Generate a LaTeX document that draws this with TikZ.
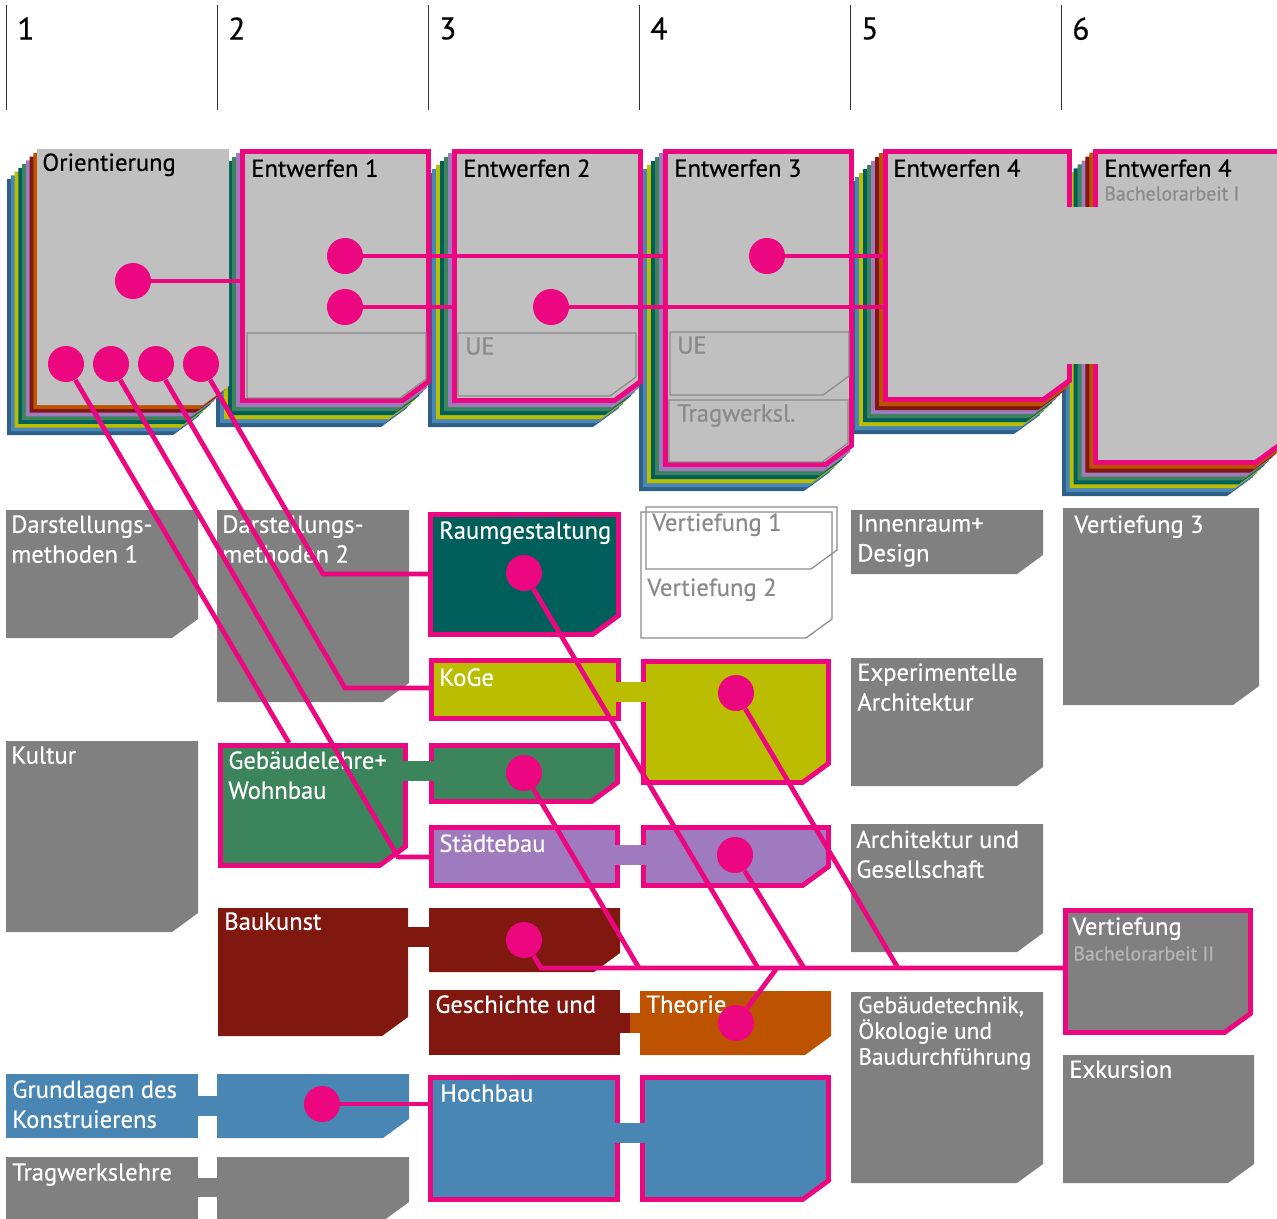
\documentclass[tikz,border=0pt]{standalone}
\usepackage{fontspec}
\setmainfont{PT Sans}[FakeBold=0.5]

\definecolor{pinkline}{RGB}{236,6,127}
\definecolor{cardgray}{RGB}{192,192,192}
\definecolor{boxgray}{RGB}{128,128,128}
\definecolor{uegray}{RGB}{138,138,138}
\definecolor{subgray}{RGB}{182,182,182}
\definecolor{colnavy}{RGB}{45,95,135}
\definecolor{colsteel}{RGB}{74,134,180}
\definecolor{cololive}{RGB}{187,189,0}
\definecolor{colteal}{RGB}{0,95,91}
\definecolor{colgreen}{RGB}{60,132,91}
\definecolor{colviolet}{RGB}{160,122,190}
\definecolor{colbrown}{RGB}{128,24,16}
\definecolor{colorange}{RGB}{189,83,0}

% card with the lower right corner cut off: left, top, right, bottom
\newcommand*{\chamfer}[4]{(#1,#2) -- (#3,#2) -- (#3,{#4-19}) -- ({#3-26},#4) -- (#1,#4) -- cycle}

\begin{document}
\begin{tikzpicture}
[
	x=0.02cm,y=-0.02cm,
	dot/.style={circle,fill=pinkline,inner sep=0pt,minimum size=20.5pt},
	link/.style={draw=pinkline,line width=2.7pt},
	rim/.style={draw=pinkline,line width=2.8pt},
	ueline/.style={draw=uegray,line width=0.7pt},
	semline/.style={draw=black!80,line width=0.8pt},
	boxtext/.style={anchor=north west,inner sep=0pt,align=left,text=white,font=\fontsize{14}{17}\selectfont},
	cardtext/.style={boxtext,text=black},
	uetext/.style={boxtext,text=uegray},
	subtext/.style={anchor=north west,inner sep=0pt,font=\fontsize{11.3}{13}\selectfont},
	numtext/.style={anchor=north west,inner sep=0pt,font=\fontsize{17.8}{20}\selectfont}
]
	\useasboundingbox (0,0) rectangle (1277,1218);
	\clip (0,0) rectangle (1277,1218);

	% semester columns
	\draw[semline] (6.5,5) -- (6.5,110);
	\draw[semline] (217.5,5) -- (217.5,110);
	\draw[semline] (428.5,5) -- (428.5,110);
	\draw[semline] (639.5,5) -- (639.5,110);
	\draw[semline] (850.5,5) -- (850.5,110);
	\draw[semline] (1061.5,5) -- (1061.5,110);
	\node[numtext] (sem1) at (17,17) {1};
	\node[numtext] (sem2) at (228,17) {2};
	\node[numtext] (sem3) at (439,17) {3};
	\node[numtext] (sem4) at (650,17) {4};
	\node[numtext] (sem5) at (861,17) {5};
	\node[numtext] (sem6) at (1072,17) {6};

	% card stacks, right to left
	\foreach \c [count=\k from 0] in {colnavy,colsteel,cololive,colteal,colgreen,colviolet,colbrown,colorange}
		\fill[\c] \chamfer{1062+3.9*\k}{180-3.9*\k}{1253+3.9*\k}{496-3.9*\k};
	\filldraw[fill=cardgray,rim] \chamfer{1095.5}{151.5}{1281.5}{462.5};
	\node[cardtext] (e6txt) at (1104,159) {Entwerfen 4};
	\node[subtext,text=uegray] (ba1txt) at (1104,186) {Bachelorarbeit I};
	%
	\foreach \c [count=\k from 0] in {colnavy,colsteel,cololive,colteal,colgreen,colviolet,colbrown,colorange}
		\fill[\c] \chamfer{851+4*\k}{181-4*\k}{1040+4*\k}{434-4*\k};
	\filldraw[fill=cardgray,rim] \chamfer{885.5}{151.5}{1069.5}{399.5};
	\node[cardtext] (e5txt) at (893,159) {Entwerfen 4};
	\fill[cardgray] (1067,207) rectangle (1099,364);
	%
	\foreach \c [count=\k from 0] in {colnavy,colsteel,cololive,colteal,colgreen,colviolet}
		\fill[\c] \chamfer{639+4*\k}{173-4*\k}{830+4*\k}{491-4*\k};
	\filldraw[fill=cardgray,rim] \chamfer{665.5}{151.5}{851.5}{464.5};
	\draw[ueline] \chamfer{670}{332}{849}{395};
	\draw[ueline] \chamfer{669}{400}{848}{462};
	\node[cardtext] (e4txt) at (674,159) {Entwerfen 3};
	\node[uetext] (ue4txt) at (677,336) {UE};
	\node[uetext] (tw4txt) at (677,404) {Tragwerksl.};
	%
	\foreach \c [count=\k from 0] in {colnavy,colsteel,cololive,colteal,colgreen,colviolet}
		\fill[\c] \chamfer{428+4*\k}{173-4*\k}{619+4*\k}{427-4*\k};
	\filldraw[fill=cardgray,rim] \chamfer{454.5}{151.5}{640.5}{400.5};
	\draw[ueline] \chamfer{458}{333}{636}{396};
	\node[cardtext] (e3txt) at (463,159) {Entwerfen 2};
	\node[uetext] (ue3txt) at (465,337) {UE};
	%
	\foreach \c [count=\k from 0] in {colnavy,colsteel,cololive,colteal,colgreen,colviolet}
		\fill[\c] \chamfer{216+4*\k}{173-4*\k}{407+4*\k}{427-4*\k};
	\filldraw[fill=cardgray,rim] \chamfer{242.5}{151.5}{428.5}{400.5};
	\draw[ueline] \chamfer{247}{333}{426}{398};
	\node[cardtext] (e2txt) at (251,159) {Entwerfen 1};
	%
	\foreach \c [count=\k from 0] in {colnavy,colsteel,cololive,colteal,colgreen,colviolet,colbrown,colorange}
		\fill[\c] \chamfer{7+3.75*\k}{179-3.75*\k}{199+3.75*\k}{435-3.75*\k};
	\fill[cardgray] \chamfer{37}{149}{229}{405};
	\node[cardtext] (oritxt) at (42,153) {Orientierung};

	% second row
	\fill[boxgray] \chamfer{6}{510}{198}{638};
	\node[boxtext] (dm1txt) at (11,515) {Darstellungs-\\methoden 1};
	\fill[boxgray] \chamfer{217}{510}{409}{702};
	\node[boxtext] (dm2txt) at (222,515) {Darstellungs-\\methoden 2};
	\filldraw[fill=colteal,rim] \chamfer{430.5}{514.5}{618.5}{634.5};
	\node[boxtext] (raumtxt) at (439,521) {Raumgestaltung};
	\draw[ueline] \chamfer{646}{507}{837}{569};
	\draw[ueline] \chamfer{641}{512}{832}{638};
	\node[uetext] (v1txt) at (652,513) {Vertiefung 1};
	\node[uetext] (v2txt) at (647,578) {Vertiefung 2};
	\fill[boxgray] \chamfer{851}{510}{1043}{574};
	\node[boxtext] (inntxt) at (857,514) {Innenraum+\\Design};
	\fill[boxgray] \chamfer{1063}{508}{1259}{705};
	\node[boxtext] (v3txt) at (1074,515) {Vertiefung 3};

	% third row
	\filldraw[fill=cololive,rim] (431.5,660.5) rectangle (618.5,718.5);
	\filldraw[fill=cololive,rim] \chamfer{643.5}{661.5}{828.5}{782.5};
	\fill[cololive] (616,682) rectangle (646,702);
	\node[boxtext] (kogetxt) at (439,668) {KoGe};
	\fill[boxgray] \chamfer{851}{658}{1043}{786};
	\node[boxtext] (exptxt) at (857,663) {Experimentelle\\Architektur};

	% fourth row
	\fill[boxgray] \chamfer{6}{741}{198}{932};
	\node[boxtext] (kultxt) at (11,746) {Kultur};
	\filldraw[fill=colgreen,rim] \chamfer{220.5}{745.5}{405.5}{865.5};
	\filldraw[fill=colgreen,rim] \chamfer{431.5}{745.5}{617.5}{801.5};
	\fill[colgreen] (403,761) rectangle (434,781);
	\node[boxtext] (gebtxt) at (228,751) {Gebäudelehre+\\Wohnbau};
	\filldraw[fill=colviolet,rim] (431.5,827.5) rectangle (617.5,885.5);
	\filldraw[fill=colviolet,rim] \chamfer{643.5}{827.5}{828.5}{885.5};
	\fill[colviolet] (615,845) rectangle (646,865);
	\node[boxtext] (stadttxt) at (439,834) {Städtebau};
	\fill[boxgray] \chamfer{851}{824}{1043}{952};
	\node[boxtext] (augtxt) at (856,830) {Architektur und\\Gesellschaft};

	% fifth row
	\fill[colbrown] \chamfer{218}{908}{408}{1036};
	\fill[colbrown] \chamfer{429}{908}{620}{972};
	\fill[colbrown] (407,927) rectangle (430,947);
	\node[boxtext] (bautxt) at (224,912) {Baukunst};
	\filldraw[fill=boxgray,rim] \chamfer{1065.5}{910.5}{1250.5}{1032.5};
	\node[boxtext] (vbatxt) at (1072,917) {Vertiefung};
	\node[subtext,text=subgray] (ba2txt) at (1073,946) {Bachelorarbeit II};

	% sixth row
	\fill[colbrown] (429,990) rectangle (620,1055);
	\fill[colorange] \chamfer{640}{991}{831}{1055};
	\fill[colbrown] (619,1013) rectangle (631,1033);
	\fill[colorange] (630,1013) rectangle (641,1033);
	\node[boxtext] (gestxt) at (435,995) {Geschichte und};
	\node[boxtext] (theotxt) at (646,995) {Theorie};
	\fill[boxgray] \chamfer{851}{992}{1043}{1183};
	\node[boxtext,font=\fontsize{13.3}{14.7}\selectfont] (gtetxt) at (858,996) {Gebäudetechnik,\\Ökologie und\\Baudurchführung};
	\fill[boxgray] \chamfer{1063}{1055}{1254}{1183};
	\node[boxtext] (exktxt) at (1069,1060) {Exkursion};

	% seventh row
	\fill[colsteel] (6,1074) rectangle (198,1138);
	\fill[colsteel] \chamfer{217}{1074}{409}{1138};
	\fill[colsteel] (197,1096) rectangle (218,1116);
	\node[boxtext] (grtxt) at (12,1080) {Grundlagen des\\Konstruierens};
	\filldraw[fill=colsteel,rim] (430.5,1077.5) rectangle (617.5,1199.5);
	\filldraw[fill=colsteel,rim] \chamfer{642.5}{1077.5}{828.5}{1199.5};
	\fill[colsteel] (615,1123) rectangle (646,1143);
	\node[boxtext] (hochtxt) at (440,1084) {Hochbau};
	\fill[boxgray] (6,1157) rectangle (198,1230);
	\fill[boxgray] \chamfer{217}{1157}{409}{1221};
	\fill[boxgray] (197,1178) rectangle (218,1197);
	\node[boxtext] (twtxt) at (12,1163) {Tragwerkslehre};

	% dots
	\node[dot] (ori) at (133,281) {};
	\node[dot] (ent1a) at (345,256) {};
	\node[dot] (ent1b) at (345,307) {};
	\node[dot] (ent2) at (551,307) {};
	\node[dot] (ent3) at (767,256) {};
	\node[dot] (ori1) at (66,364) {};
	\node[dot] (ori2) at (111,364) {};
	\node[dot] (ori3) at (156,364) {};
	\node[dot] (ori4) at (201,364) {};
	\node[dot] (raum) at (524,573) {};
	\node[dot] (koge) at (736,693) {};
	\node[dot] (gebw) at (524,773) {};
	\node[dot] (stadt) at (735,855) {};
	\node[dot] (bauk) at (524,940) {};
	\node[dot] (theo) at (736,1023) {};
	\node[dot] (grund) at (322,1104) {};

	% free ends
	\coordinate (ent1in) at (241,281);
	\coordinate (ent2in) at (453,307);
	\coordinate (ent3in) at (664,256);
	\coordinate (ent4a) at (884,256);
	\coordinate (ent4b) at (884,307);
	\coordinate (gebtop) at (289,743);
	\coordinate (gebcut) at (398,857);
	\coordinate (stadtin) at (430,857);
	\coordinate (kogecut) at (345,688);
	\coordinate (kogein) at (430,688);
	\coordinate (raumcut) at (323,574);
	\coordinate (raumin) at (430,574);
	\coordinate (busstart) at (541,968);
	\coordinate (busend) at (1066,968);
	\coordinate (busgeb) at (639,968);
	\coordinate (busraum) at (758,968);
	\coordinate (busstadt) at (804,968);
	\coordinate (buskoge) at (898,968);
	\coordinate (bustheo) at (777,968);
	\coordinate (hochin) at (430,1104);

	% links
	\draw[link] (ori) -- (ent1in);
	\draw[link] (ent1a) -- (ent3in);
	\draw[link] (ent1b) -- (ent2in);
	\draw[link] (ent2) -- (ent4b);
	\draw[link] (ent3) -- (ent4a);
	\draw[link] (ori1) -- (gebtop);
	\draw[link] (ori2) -- (gebcut) -- (stadtin);
	\draw[link] (ori3) -- (kogecut) -- (kogein);
	\draw[link] (ori4) -- (raumcut) -- (raumin);
	\draw[link] (bauk) -- (busstart) -- (busend);
	\draw[link] (gebw) -- (busgeb);
	\draw[link] (raum) -- (busraum);
	\draw[link] (stadt) -- (busstadt);
	\draw[link] (koge) -- (buskoge);
	\draw[link] (theo) -- (bustheo);
	\draw[link] (grund) -- (hochin);

\end{tikzpicture}
\end{document}
